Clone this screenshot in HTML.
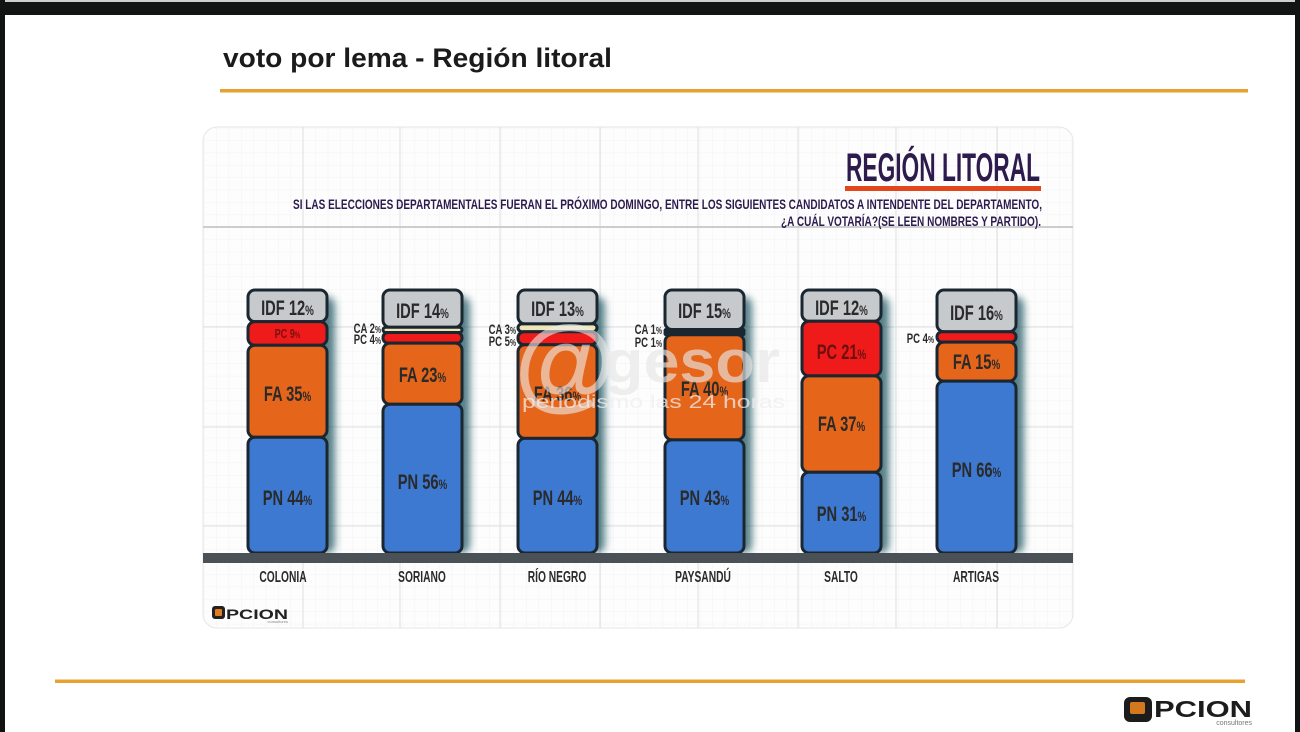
<!DOCTYPE html>
<html><head><meta charset="utf-8"><style>
html,body{margin:0;padding:0;background:#fff;}
svg{display:block;}
text{font-family:"Liberation Sans",sans-serif;}
</style></head><body>
<svg width="1300" height="732" viewBox="0 0 1300 732" xmlns="http://www.w3.org/2000/svg">
<defs>
<pattern id="mg" x="303" y="227" width="12.4" height="12.4" patternUnits="userSpaceOnUse">
<path d="M0 0V12.4M0 0H12.4" stroke="#efefef" stroke-width="0.8" fill="none"/>
</pattern>
<filter id="sh" x="-40%" y="-10%" width="180%" height="130%"><feGaussianBlur stdDeviation="4"/></filter>
<clipPath id="cc"><rect x="203" y="127" width="870" height="501" rx="14"/></clipPath>
</defs>

<!-- page -->
<rect x="0" y="0" width="1300" height="732" fill="#ffffff"/>
<rect x="0" y="0" width="1300" height="2" fill="#cfcfcf"/>
<rect x="0" y="2" width="1300" height="13" fill="#121414"/>
<rect x="0" y="0" width="5" height="732" fill="#121414"/>
<rect x="1295" y="0" width="5" height="732" fill="#121414"/>

<!-- title -->
<text x="223" y="67" font-size="27" font-weight="bold" fill="#1b1b1b" textLength="389" lengthAdjust="spacingAndGlyphs">voto por lema - Región litoral</text>
<rect x="220" y="89" width="1028" height="3.5" fill="#e6a12f"/>
<rect x="55" y="679.5" width="1190" height="3.5" fill="#e6a12f"/>

<!-- chart panel -->
<rect x="203" y="127" width="870" height="501" rx="14" fill="#fdfdfd" stroke="#e6e6e6" stroke-width="1"/>
<g clip-path="url(#cc)">
<rect x="203" y="127" width="870" height="501" fill="url(#mg)"/>
<g stroke="#dedede" stroke-width="1">
<line x1="303" y1="127" x2="303" y2="628"/><line x1="400" y1="127" x2="400" y2="628"/>
<line x1="500" y1="127" x2="500" y2="628"/><line x1="600" y1="127" x2="600" y2="628"/>
<line x1="698" y1="127" x2="698" y2="628"/><line x1="798" y1="127" x2="798" y2="628"/>
<line x1="896" y1="127" x2="896" y2="628"/><line x1="997" y1="127" x2="997" y2="628"/>
<line x1="203" y1="327" x2="1073" y2="327"/><line x1="203" y1="427" x2="1073" y2="427"/>
<line x1="203" y1="526" x2="1073" y2="526"/>
</g>
<line x1="203" y1="227" x2="1073" y2="227" stroke="#cdcdcd" stroke-width="2"/>
</g>

<!-- header -->
<text x="846" y="181" font-size="40" font-weight="bold" fill="#2d1b4e" textLength="194" lengthAdjust="spacingAndGlyphs">REGIÓN LITORAL</text>
<rect x="845" y="186" width="196" height="5" fill="#e2461c"/>
<text x="293" y="209" font-size="14" font-weight="bold" fill="#2d1b4e" textLength="749" lengthAdjust="spacingAndGlyphs">SI LAS ELECCIONES DEPARTAMENTALES FUERAN EL PRÓXIMO DOMINGO, ENTRE LOS SIGUIENTES CANDIDATOS A INTENDENTE DEL DEPARTAMENTO,</text>
<text x="781" y="226" font-size="14" font-weight="bold" fill="#2d1b4e" textLength="260" lengthAdjust="spacingAndGlyphs">¿A CUÁL VOTARÍA?(SE LEEN NOMBRES Y PARTIDO).</text>

<!-- shadows -->
<g fill="#1d5561" opacity="0.75" filter="url(#sh)">
<rect x="256" y="297" width="79" height="256" rx="8"/>
<rect x="391" y="297" width="79" height="256" rx="8"/>
<rect x="526" y="297" width="79" height="256" rx="8"/>
<rect x="673" y="297" width="79" height="256" rx="8"/>
<rect x="810" y="297" width="79" height="256" rx="8"/>
<rect x="945" y="297" width="79" height="256" rx="8"/>
</g>

<!-- bars -->
<g stroke="#1b2730" stroke-width="3">
<!-- Colonia -->
<rect x="248" y="290" width="79" height="31.6" rx="7" fill="#c7cacd"/>
<rect x="248" y="321.6" width="79" height="23.6" rx="7" fill="#ef1b1b"/>
<rect x="248" y="345.2" width="79" height="92.1" rx="7" fill="#e5661a"/>
<rect x="248" y="437.3" width="79" height="115.7" rx="7" fill="#3d79d1"/>
<!-- Soriano -->
<rect x="383" y="290" width="79" height="37.2" rx="7" fill="#c7cacd"/>
<rect x="383" y="327.2" width="79" height="5.3" rx="3" fill="#efe6b8"/>
<rect x="383" y="332.5" width="79" height="10.6" rx="5" fill="#ef1b1b"/>
<rect x="383" y="343.1" width="79" height="61.1" rx="7" fill="#e5661a"/>
<rect x="383" y="404.2" width="79" height="148.8" rx="7" fill="#3d79d1"/>
<!-- Rio Negro -->
<rect x="518" y="290" width="79" height="33.9" rx="7" fill="#c7cacd"/>
<rect x="518" y="323.9" width="79" height="7.8" rx="4" fill="#efe6b8"/>
<rect x="518" y="331.7" width="79" height="13" rx="6" fill="#ef1b1b"/>
<rect x="518" y="344.7" width="79" height="93.7" rx="7" fill="#e5661a"/>
<rect x="518" y="438.4" width="79" height="114.6" rx="7" fill="#3d79d1"/>
<!-- Paysandu -->
<rect x="665" y="290" width="79" height="39.5" rx="7" fill="#c7cacd"/>
<rect x="665" y="329.5" width="79" height="2.6" rx="1" fill="#8a6a5a"/>
<rect x="665" y="332.1" width="79" height="2.6" rx="1" fill="#8a2a2a"/>
<rect x="665" y="334.7" width="79" height="105.2" rx="7" fill="#e5661a"/>
<rect x="665" y="439.9" width="79" height="113.1" rx="7" fill="#3d79d1"/>
<!-- Salto -->
<rect x="802" y="290" width="79" height="31.2" rx="7" fill="#c7cacd"/>
<rect x="802" y="321.2" width="79" height="54.7" rx="7" fill="#ef1b1b"/>
<rect x="802" y="375.9" width="79" height="96.4" rx="7" fill="#e5661a"/>
<rect x="802" y="472.3" width="79" height="80.7" rx="7" fill="#3d79d1"/>
<!-- Artigas -->
<rect x="937" y="290" width="79" height="41.7" rx="7" fill="#c7cacd"/>
<rect x="937" y="331.7" width="79" height="10.4" rx="5" fill="#ef1b1b"/>
<rect x="937" y="342.1" width="79" height="39" rx="7" fill="#e5661a"/>
<rect x="937" y="381.1" width="79" height="171.9" rx="7" fill="#3d79d1"/>
</g>

<!-- axis -->
<rect x="203" y="553" width="870" height="10" fill="#4a5257"/>

<!-- bar labels -->
<g font-weight="bold" fill="#2a2a2a" font-size="21" text-anchor="middle">
<text transform="translate(287.5,315) scale(0.7,1)">IDF 12<tspan font-size="14">%</tspan></text>
<text transform="translate(287.5,401) scale(0.7,1)">FA 35<tspan font-size="14">%</tspan></text>
<text transform="translate(287.5,505) scale(0.7,1)">PN 44<tspan font-size="14">%</tspan></text>

<text transform="translate(422.5,318) scale(0.7,1)">IDF 14<tspan font-size="14">%</tspan></text>
<text transform="translate(422.5,382) scale(0.7,1)">FA 23<tspan font-size="14">%</tspan></text>
<text transform="translate(422.5,489) scale(0.7,1)">PN 56<tspan font-size="14">%</tspan></text>

<text transform="translate(557.5,316) scale(0.7,1)">IDF 13<tspan font-size="14">%</tspan></text>
<text transform="translate(557.5,401) scale(0.7,1)">FA 36<tspan font-size="14">%</tspan></text>
<text transform="translate(557.5,505) scale(0.7,1)">PN 44<tspan font-size="14">%</tspan></text>

<text transform="translate(704.5,318) scale(0.7,1)">IDF 15<tspan font-size="14">%</tspan></text>
<text transform="translate(704.5,396) scale(0.7,1)">FA 40<tspan font-size="14">%</tspan></text>
<text transform="translate(704.5,505) scale(0.7,1)">PN 43<tspan font-size="14">%</tspan></text>

<text transform="translate(841.5,315) scale(0.7,1)">IDF 12<tspan font-size="14">%</tspan></text>
<text transform="translate(841.5,359) scale(0.7,1)" fill="#6e0f0f">PC 21<tspan font-size="14">%</tspan></text>
<text transform="translate(841.5,431) scale(0.7,1)">FA 37<tspan font-size="14">%</tspan></text>
<text transform="translate(841.5,521) scale(0.7,1)">PN 31<tspan font-size="14">%</tspan></text>

<text transform="translate(976.5,320) scale(0.7,1)">IDF 16<tspan font-size="14">%</tspan></text>
<text transform="translate(976.5,369) scale(0.7,1)">FA 15<tspan font-size="14">%</tspan></text>
<text transform="translate(976.5,477) scale(0.7,1)">PN 66<tspan font-size="14">%</tspan></text>

<text transform="translate(287.5,338) scale(0.7,1)" font-size="13" fill="#7a1010">PC 9<tspan font-size="9">%</tspan></text>
</g>

<!-- side labels -->
<g font-weight="bold" fill="#2a2a2a" font-size="14" text-anchor="end">
<text transform="translate(381,333) scale(0.68,1)">CA 2<tspan font-size="10">%</tspan></text>
<text transform="translate(381,344) scale(0.68,1)">PC 4<tspan font-size="10">%</tspan></text>
<text transform="translate(516,334) scale(0.68,1)">CA 3<tspan font-size="10">%</tspan></text>
<text transform="translate(516,346) scale(0.68,1)">PC 5<tspan font-size="10">%</tspan></text>
<text transform="translate(662,334) scale(0.68,1)">CA 1<tspan font-size="10">%</tspan></text>
<text transform="translate(662,347) scale(0.68,1)">PC 1<tspan font-size="10">%</tspan></text>
<text transform="translate(934,343) scale(0.68,1)">PC 4<tspan font-size="10">%</tspan></text>
</g>

<!-- category labels -->
<g font-weight="bold" fill="#2a2a2a" font-size="16" text-anchor="middle">
<text transform="translate(283,582) scale(0.64,1)">COLONIA</text>
<text transform="translate(422,582) scale(0.64,1)">SORIANO</text>
<text transform="translate(557,582) scale(0.64,1)">RÍO NEGRO</text>
<text transform="translate(703,582) scale(0.64,1)">PAYSANDÚ</text>
<text transform="translate(841,582) scale(0.64,1)">SALTO</text>
<text transform="translate(976,582) scale(0.64,1)">ARTIGAS</text>
</g>

<!-- small logo in chart -->
<rect x="212" y="606" width="13" height="13" rx="3" fill="#222"/>
<rect x="215" y="609" width="7" height="7" rx="1" fill="#e07b20"/>
<text x="226" y="619" font-size="14" font-weight="bold" fill="#222" textLength="62" lengthAdjust="spacingAndGlyphs">PCION</text>
<text x="288" y="623" font-size="4" fill="#888" text-anchor="end">consultores</text>

<!-- watermark -->
<text x="565" y="398" font-size="104" font-weight="bold" fill="#ececec" fill-opacity="0.6" text-anchor="middle">@</text>
<text x="604" y="382" font-size="60" font-weight="bold" fill="#e6e6e6" fill-opacity="0.65" textLength="176" lengthAdjust="spacingAndGlyphs">gesor</text>
<text x="522" y="408" font-size="18" fill="#eeeeee" fill-opacity="0.75" textLength="263" lengthAdjust="spacingAndGlyphs">periodismo las 24 horas</text>

<!-- bottom logo -->
<rect x="1124" y="697" width="28" height="25" rx="6" fill="#1c1c1c"/>
<rect x="1130" y="702" width="15" height="12" rx="2" fill="#d4781e"/>
<text x="1154" y="717" font-size="23" font-weight="bold" fill="#1c1c1c" textLength="98" lengthAdjust="spacingAndGlyphs">PCION</text>
<text x="1252" y="725" font-size="7" fill="#777" text-anchor="end">consultores</text>
</svg>
</body></html>
